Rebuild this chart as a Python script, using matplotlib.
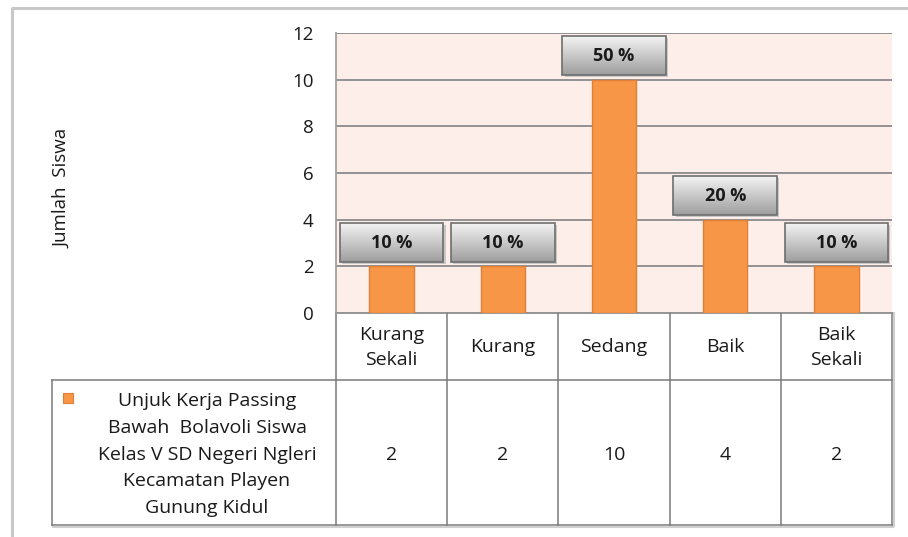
import numpy as np
import matplotlib
matplotlib.use("Agg")
import matplotlib.pyplot as plt
from matplotlib.patches import Rectangle

# ---------------------------------------------------------------------------
# data
# ---------------------------------------------------------------------------
categories = ["Kurang\nSekali", "Kurang", "Sedang", "Baik", "Baik\nSekali"]
values = [2, 2, 10, 4, 2]
series_name = ("Unjuk Kerja Passing\nBawah  Bolavoli Siswa\n"
               "Kelas V SD Negeri Ngleri\nKecamatan Playen\nGunung Kidul")
y_ticks = [0, 2, 4, 6, 8, 10, 12]
y_label = "Jumlah  Siswa"

# ---------------------------------------------------------------------------
# styling / layout (pixels)
# ---------------------------------------------------------------------------
W, H = 908, 537
PLOT_L, PLOT_R, PLOT_T, PLOT_B = 336, 892, 33, 313
ROW1_B = 380      # bottom of category row
ROW2_B = 525      # bottom of value row
LEG_L = 52        # left of legend cell

BAR_COLOR = "#f79646"
BAR_EDGE = "#e07f35"
BG_COLOR = "#fdeee9"
GRID_COLOR = "#8a8a8a"
TABLE_COLOR = "#7a7a7a"
TEXT_COLOR = "#1a1a1a"
FONT = ["Open Sans", "DejaVu Sans"]
FS = 14

plt.rcParams["font.family"] = FONT

fig = plt.figure(figsize=(W / 100, H / 100), dpi=100)
fig.patch.set_facecolor("white")

ax = fig.add_axes([PLOT_L / W, 1 - PLOT_B / H,
                   (PLOT_R - PLOT_L) / W, (PLOT_B - PLOT_T) / H])
ax.set_facecolor(BG_COLOR)

x = np.arange(len(categories))
ax.bar(x, values, width=0.4, color=BAR_COLOR, edgecolor=BAR_EDGE,
       linewidth=1.0, zorder=3)

# gridlines
for t in y_ticks:
    ax.axhline(t, color=GRID_COLOR, linewidth=1.3, zorder=1)

# percentage boxes with gradient
total = sum(values)
grad = np.linspace(0.96, 0.62, 64).reshape(-1, 1)
box_w, box_h = 0.93, 1.68
for xi, v in zip(x, values):
    left = xi - box_w / 2
    left = min(max(left, -0.5 + 0.02), len(categories) - 0.5 - box_w - 0.02)
    bottom = v + 0.18
    # shadow
    ax.add_patch(Rectangle((left + 0.02, bottom - 0.08), box_w, box_h,
                           facecolor="#c8c8c8", edgecolor="none", zorder=4))
    ax.imshow(grad, cmap="gray", vmin=0, vmax=1, aspect="auto",
              extent=(left, left + box_w, bottom, bottom + box_h),
              interpolation="bicubic", zorder=5)
    ax.add_patch(Rectangle((left, bottom), box_w, box_h, facecolor="none",
                           edgecolor="#6e6e6e", linewidth=1.2, zorder=6))
    ax.text(left + box_w / 2, bottom + box_h / 2, f"{v / total * 100:.0f} %",
            ha="center", va="center", fontsize=FS - 1, fontweight="bold",
            color=TEXT_COLOR, zorder=7)

ax.set_xlim(-0.5, len(categories) - 0.5)
ax.set_ylim(0, 12)
ax.set_yticks(y_ticks)
ax.set_xticks([])
ax.tick_params(axis="y", length=0, pad=16, labelsize=FS - 0.5,
               labelcolor=TEXT_COLOR)
for s in ["top", "right", "bottom"]:
    ax.spines[s].set_visible(False)
ax.spines["left"].set_color("#a0a0a0")
ax.spines["left"].set_linewidth(1.3)

# ---------------------------------------------------------------------------
# data table + frame drawn in a full-figure overlay (pixel coordinates)
# ---------------------------------------------------------------------------
ov = fig.add_axes([0, 0, 1, 1], zorder=-1)
ov.set_xlim(0, W)
ov.set_ylim(H, 0)
ov.axis("off")

# outer chart frame
ov.plot([12, 12, W], [H, 8, 8], color="#c8c8c8", linewidth=2.2,
        solid_capstyle="butt")

col_w = (PLOT_R - PLOT_L) / len(categories)
lw = 1.1
ov.plot([PLOT_L, PLOT_R], [PLOT_B, PLOT_B], color=TABLE_COLOR, lw=lw)
ov.plot([LEG_L, PLOT_R], [ROW1_B, ROW1_B], color=TABLE_COLOR, lw=lw)
ov.plot([LEG_L, PLOT_R], [ROW2_B, ROW2_B], color=TABLE_COLOR, lw=lw)
ov.plot([LEG_L + 1, PLOT_R + 1], [ROW2_B + 1.5, ROW2_B + 1.5],
        color="#d0d0d0", lw=1.5)
ov.plot([LEG_L, LEG_L], [ROW1_B, ROW2_B], color=TABLE_COLOR, lw=lw)
for i in range(len(categories) + 1):
    xb = PLOT_L + i * col_w
    ov.plot([xb, xb], [PLOT_B, ROW2_B], color=TABLE_COLOR, lw=lw)
ov.plot([PLOT_R + 1.5, PLOT_R + 1.5], [PLOT_B, ROW2_B + 1],
        color="#d0d0d0", lw=1.5)

for i, (cat, v) in enumerate(zip(categories, values)):
    cx = PLOT_L + (i + 0.5) * col_w
    ov.text(cx, (PLOT_B + ROW1_B) / 2 + 1, cat, ha="center", va="center",
            fontsize=FS, color=TEXT_COLOR, linespacing=1.5)
    ov.text(cx, (ROW1_B + ROW2_B) / 2 + 2, str(v), ha="center",
            va="center", fontsize=FS, color=TEXT_COLOR)

# legend cell
ov.add_patch(Rectangle((63, 393), 10, 10, facecolor=BAR_COLOR,
                       edgecolor=BAR_EDGE, linewidth=0.8))
ov.text(207, (ROW1_B + ROW2_B) / 2 + 2, series_name, ha="center",
        va="center", fontsize=FS, color=TEXT_COLOR, linespacing=1.62)

# y-axis label
ov.text(62, 188, y_label, rotation=90, ha="center", va="center",
        fontsize=FS - 0.5, color=TEXT_COLOR)

fig.savefig("out.png", dpi=100)
